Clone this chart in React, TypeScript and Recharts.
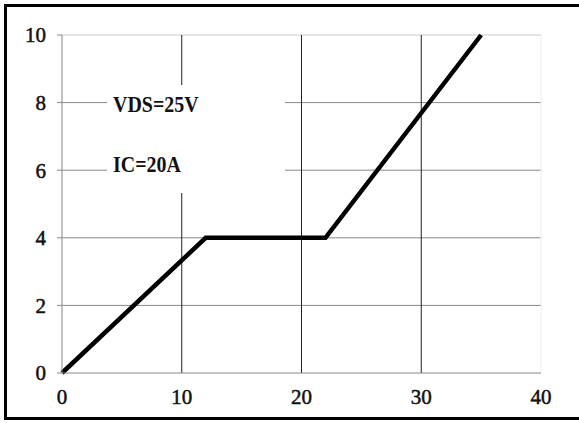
import React from 'react';
import {
  LineChart,
  Line,
  XAxis,
  YAxis,
  ReferenceLine,
  Customized
} from 'recharts';

// Curve breakpoints (x on 0..40 axis, y on 0..10 axis)
const xValues = [0, 12, 22, 35];
const yValues = [0, 4, 4, 10];

const xTicks = [0, 10, 20, 30, 40];
const yTicks = [0, 2, 4, 6, 8, 10];

const verticalGrid = [10, 20, 30];
const horizontalGrid = [2, 4, 6, 8];

const notes = ['VDS=25V', 'IC=20A'];

const chartData = xValues.map((x, i) => ({ x, y: yValues[i] }));

const serif = '"Liberation Serif", serif';

const tickStyle = {
  fill: '#111',
  stroke: '#111',
  strokeWidth: 0.5,
  fontSize: 21,
  fontFamily: serif
};

// frame around the whole picture
const Frame = () => (
  <rect x={5.5} y={5.5} width={600} height={413} fill="none" stroke="#000" strokeWidth={3} />
);

const App: React.FC = () => {
  return (
    <div style={{ position: 'absolute', left: 0, top: 0, background: '#fff' }}>
      <LineChart
        width={579}
        height={423}
        data={chartData}
        margin={{ top: 35, right: 38, left: 22, bottom: 20 }}
      >
        {horizontalGrid.map((v) => (
          <ReferenceLine key={'h' + v} y={v} stroke="#888" strokeWidth={1} />
        ))}
        <ReferenceLine y={10} stroke="#c8c8c8" strokeWidth={1} />
        <ReferenceLine x={40} stroke="#eee" strokeWidth={1} />
        {verticalGrid.map((v) => (
          <ReferenceLine key={'v' + v} x={v} stroke="#222" strokeWidth={1} />
        ))}
        <XAxis
          dataKey="x"
          type="number"
          domain={[0, 40]}
          ticks={xTicks}
          tickLine={false}
          tickSize={6}
          tickMargin={10}
          height={30}
          axisLine={{ stroke: '#888' }}
          tick={tickStyle}
        />
        <YAxis
          type="number"
          domain={[0, 10]}
          ticks={yTicks}
          width={40}
          tickSize={5}
          tickMargin={11}
          tickLine={{ stroke: '#888' }}
          axisLine={{ stroke: '#888' }}
          tick={tickStyle}
        />
        <Customized component={<Frame />} />
        <Line
          type="linear"
          dataKey="y"
          stroke="#000"
          strokeWidth={4.5}
          dot={false}
          activeDot={false}
          isAnimationActive={false}
        />
      </LineChart>
      {/* white text box sitting over the grid */}
      <div
        style={{
          position: 'absolute',
          left: 107,
          top: 85,
          width: 178,
          height: 108,
          background: '#fff'
        }}
      >
        {notes.map((t, i) => (
          <span
            key={t}
            style={{
              position: 'absolute',
              left: 6,
              top: 9 + i * 60,
              fontFamily: serif,
              fontSize: 21,
              fontWeight: 'bold',
              lineHeight: '21px',
              color: '#111',
              whiteSpace: 'nowrap',
              display: 'inline-block',
              transform: 'scale(0.95, 1.05)',
              transformOrigin: 'left top'
            }}
          >
            {t}
          </span>
        ))}
      </div>
    </div>
  );
};

export default App;
